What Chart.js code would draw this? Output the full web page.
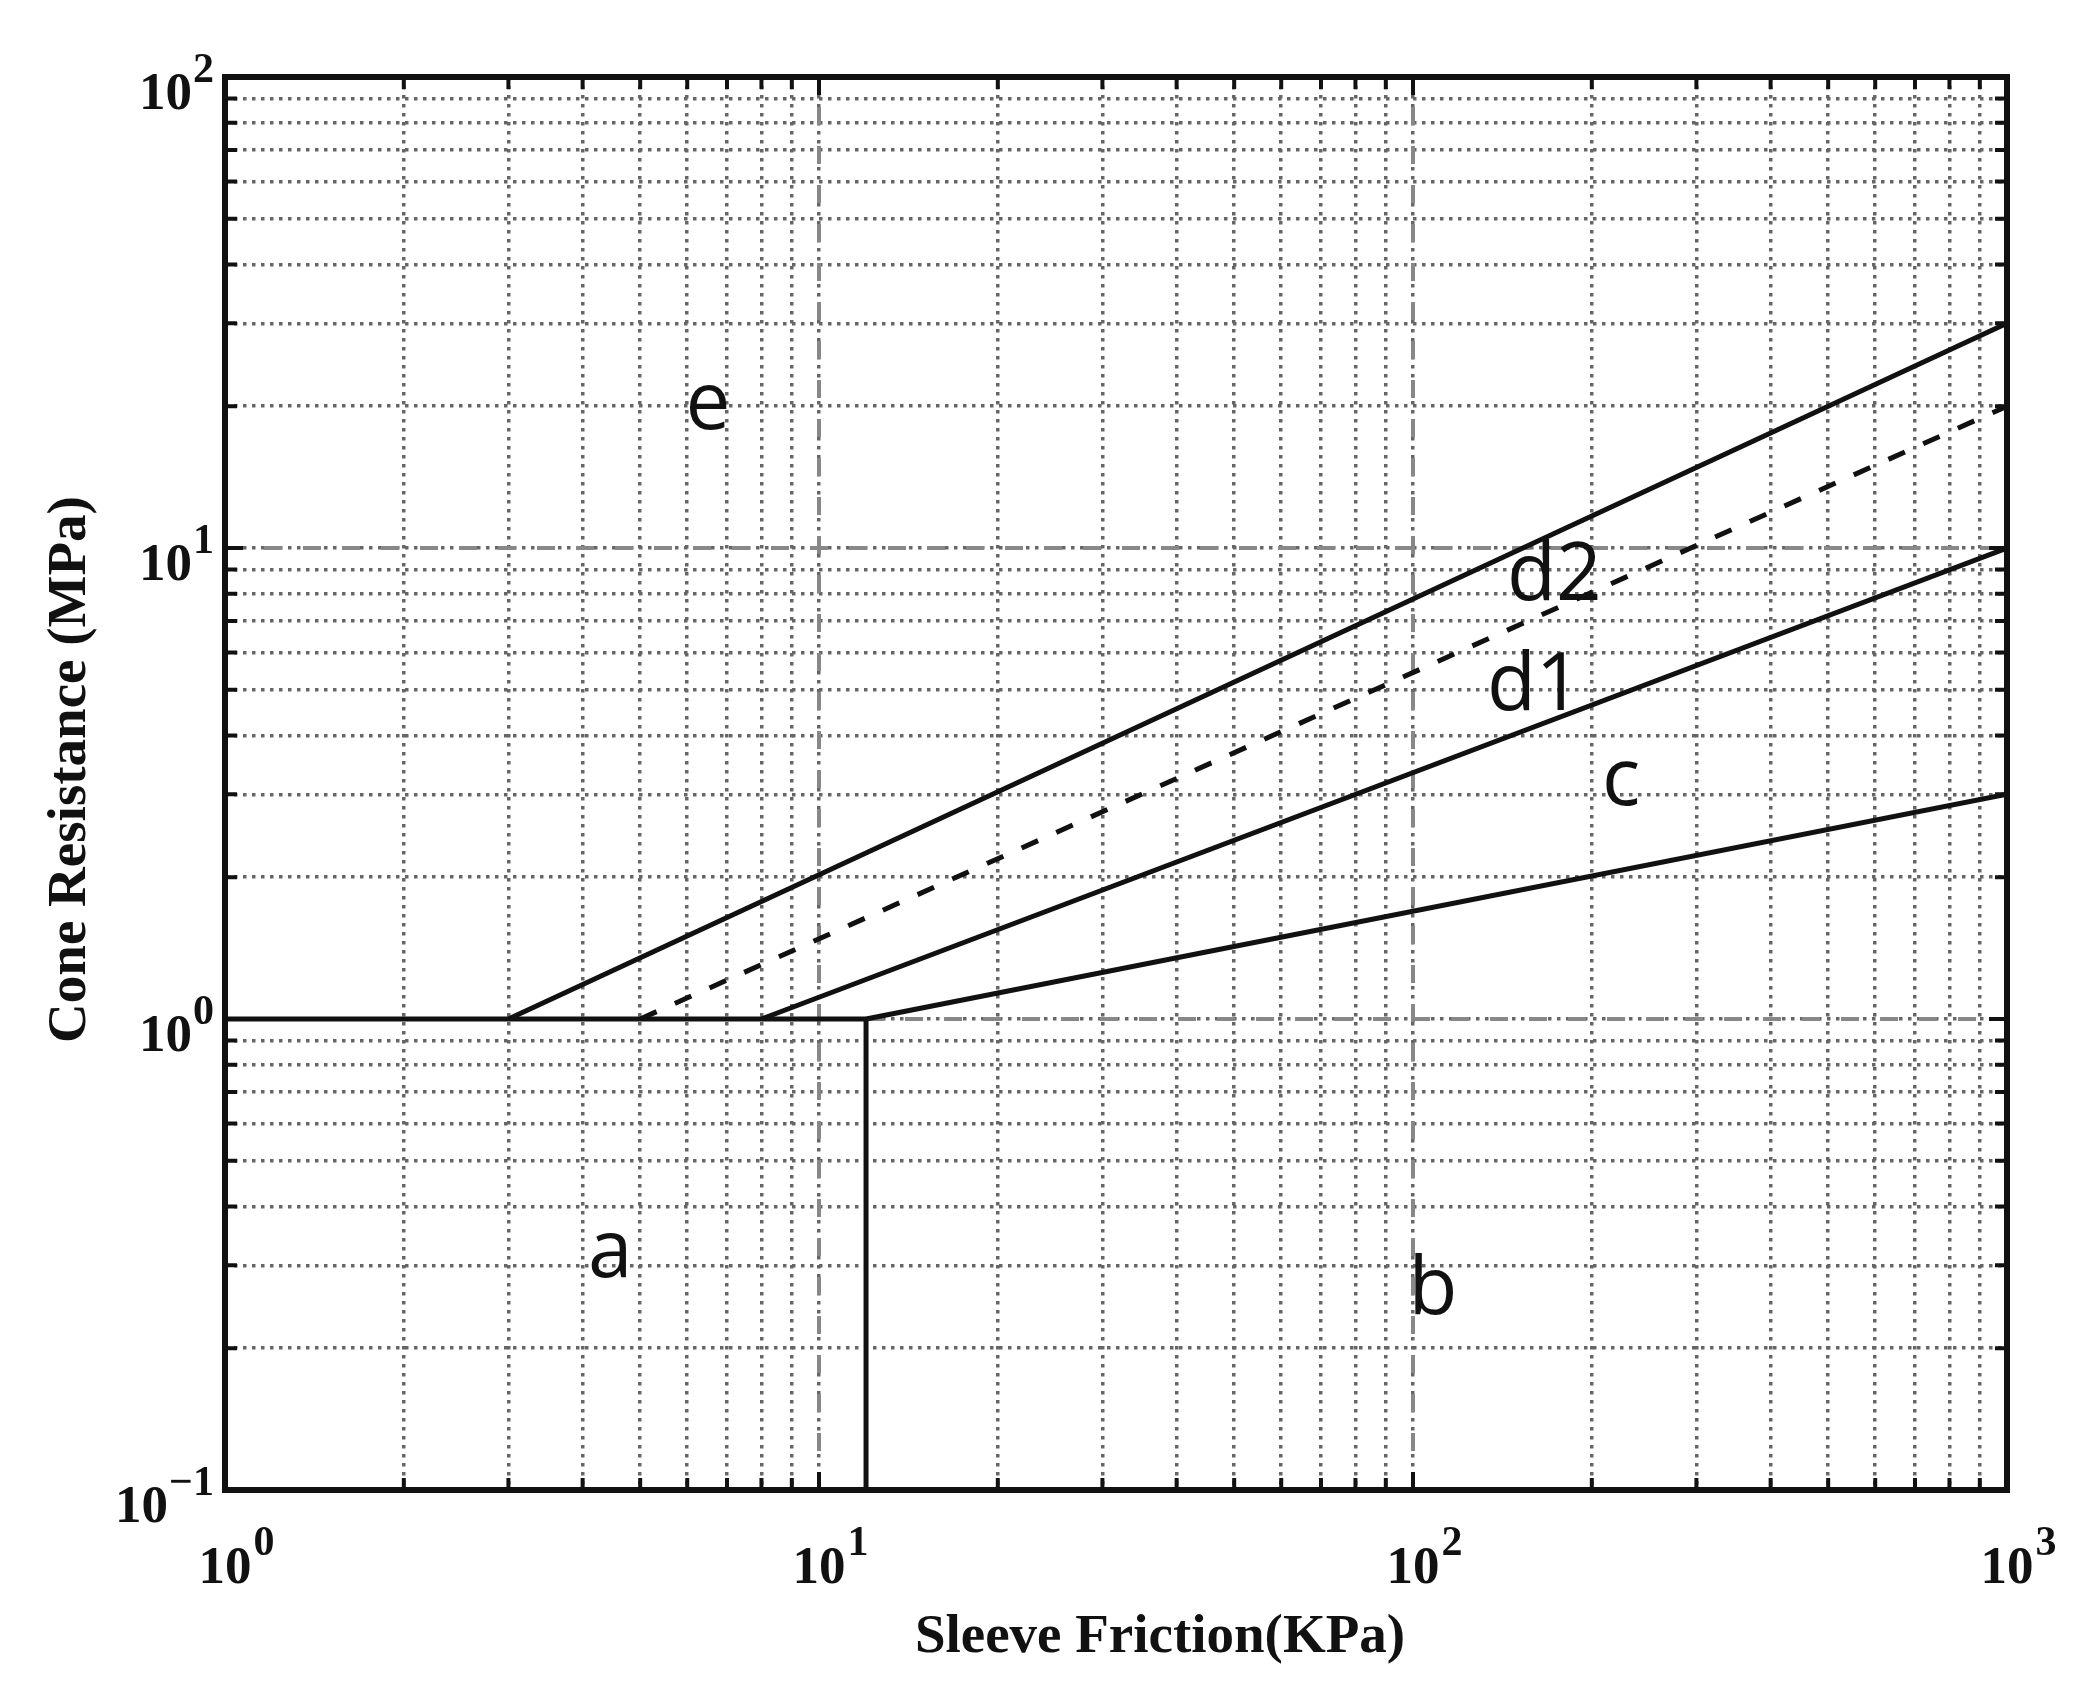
<!DOCTYPE html>
<html>
<head>
<meta charset="utf-8">
<title>Cone Resistance vs Sleeve Friction</title>
<script src="https://cdn.jsdelivr.net/npm/chart.js@4.4.1/dist/chart.umd.min.js"></script>
<style>
  html, body { margin: 0; padding: 0; background: #fff; }
  #wrap { position: relative; width: 2094px; height: 1688px; }
</style>
</head>
<body>
<div id="wrap"><canvas id="chart"></canvas></div>
<script>
// ---------- data ----------
// grid / tick positions (log decades with 2..9 minors)
const xTicks = [1, 2, 3, 4, 5, 6, 7, 8, 9, 10, 20, 30, 40, 50, 60, 70, 80, 90,
                100, 200, 300, 400, 500, 600, 700, 800, 900, 1000];
const yTicks = [0.1, 0.2, 0.3, 0.4, 0.5, 0.6, 0.7, 0.8, 0.9, 1, 2, 3, 4, 5, 6, 7, 8, 9,
                10, 20, 30, 40, 50, 60, 70, 80, 90, 100];
const xMajor = [1, 10, 100, 1000];
const yMajor = [0.1, 1, 10, 100];
const xExponents = ['0', '1', '2', '3'];
const yExponents = ['\u22121', '0', '1', '2'];

// zone boundaries: sleeve friction (kPa) -> cone resistance (MPa)
const edgeATop   = [{ x: 1, y: 1 }, { x: 12, y: 1 }];
const edgeABside = [{ x: 12, y: 0.1 }, { x: 12, y: 1 }];
const edgeD2E    = [{ x: 3, y: 1 }, { x: 1000, y: 30 }];
const edgeD1D2   = [{ x: 5, y: 1 }, { x: 1000, y: 20 }];
const edgeCD1    = [{ x: 8, y: 1 }, { x: 1000, y: 10 }];
const edgeBC     = [{ x: 12, y: 1 }, { x: 1000, y: 3 }];

// grey reference lines
const refY1   = [{ x: 12, y: 1 }, { x: 1000, y: 1 }];
const refY10  = [{ x: 1, y: 10 }, { x: 1000, y: 10 }];
const refX10  = [{ x: 10, y: 0.1 }, { x: 10, y: 100 }];
const refX100 = [{ x: 100, y: 0.1 }, { x: 100, y: 100 }];

// zone labels (anchored at text baseline centre)
const zoneNames = ['a', 'b', 'c', 'd1', 'd2', 'e'];
const zoneX = [4.45, 108, 224, 160, 173, 6.5];
const zoneY = [0.283, 0.236, 2.85, 4.53, 7.76, 17.9];

const xTitle = 'Sleeve Friction(KPa)';
const yTitle = 'Cone Resistance (MPa)';

// ---------- styles ----------
const INK = '#111';
const GREY = '#888';
const SERIF = '"Liberation Serif", "Times New Roman", serif';

function solid(data) {
  return { data, borderColor: INK, borderWidth: 5, showLine: true, pointRadius: 0, fill: false };
}
function dashedInk(data) {
  return { data, borderColor: INK, borderWidth: 5, borderDash: [18, 20], showLine: true, pointRadius: 0, fill: false };
}
function dashedGrey(data) {
  return { data, borderColor: GREY, borderWidth: 4, borderDash: [18, 21], showLine: true, pointRadius: 0, fill: false };
}

// first dataset is drawn on top, so black edges go first
const datasets = [
  solid(edgeATop), solid(edgeABside), solid(edgeD2E), dashedInk(edgeD1D2),
  solid(edgeCD1), solid(edgeBC),
  dashedGrey(refY1), dashedGrey(refY10), dashedGrey(refX10), dashedGrey(refX100),
];

function gridAxis(ticks, min, max) {
  return {
    type: 'logarithmic',
    min, max,
    afterBuildTicks: axis => { axis.ticks = ticks.map(v => ({ value: v })); },
    ticks: { display: false },
    grid: { color: '#666', lineWidth: 3.5, drawTicks: false },
    border: { display: false, dash: [3.5, 5.5] },
  };
}

// frame, inward ticks, power-of-ten labels, axis titles
const frameAndText = {
  id: 'frameAndText',
  afterDraw(chart) {
    const { ctx, chartArea: a, scales: { x, y } } = chart;
    ctx.save();
    ctx.strokeStyle = INK;
    ctx.lineWidth = 4;
    ctx.beginPath();
    xTicks.forEach(v => {
      const px = x.getPixelForValue(v);
      const len = xMajor.includes(v) ? 18 : 12;
      ctx.moveTo(px, a.bottom); ctx.lineTo(px, a.bottom - len);
      ctx.moveTo(px, a.top); ctx.lineTo(px, a.top + len);
    });
    yTicks.forEach(v => {
      const py = y.getPixelForValue(v);
      const len = yMajor.includes(v) ? 18 : 12;
      ctx.moveTo(a.left, py); ctx.lineTo(a.left + len, py);
      ctx.moveTo(a.right, py); ctx.lineTo(a.right - len, py);
    });
    ctx.stroke();
    ctx.lineWidth = 6;
    ctx.strokeRect(a.left, a.top, a.right - a.left, a.bottom - a.top);

    ctx.fillStyle = INK;
    ctx.textBaseline = 'alphabetic';
    const baseFont = 'bold 53px ' + SERIF;
    const supFont = 'bold 42px ' + SERIF;

    // x tick labels: "10" centred on tick, exponent to the right
    xMajor.forEach((v, i) => {
      const px = x.getPixelForValue(v);
      ctx.font = baseFont;
      const w = ctx.measureText('10').width;
      ctx.textAlign = 'center';
      ctx.fillText('10', px, a.bottom + 93);
      ctx.font = supFont;
      ctx.textAlign = 'left';
      ctx.fillText(xExponents[i], px + w / 2 + 2, a.bottom + 65);
    });

    // y tick labels: right aligned left of the frame
    yMajor.forEach((v, i) => {
      const py = y.getPixelForValue(v);
      ctx.font = supFont;
      const ws = ctx.measureText(yExponents[i]).width;
      const right = a.left - 11;
      ctx.textAlign = 'right';
      ctx.fillText(yExponents[i], right, py + 5);
      ctx.font = baseFont;
      ctx.fillText('10', right - ws - 1, py + 32);
    });

    // axis titles
    ctx.font = 'bold 55px ' + SERIF;
    ctx.textAlign = 'center';
    ctx.fillText(xTitle, (a.left + a.right) / 2 + 44, a.bottom + 162);
    ctx.save();
    ctx.translate(a.left - 140, (a.top + a.bottom) / 2 - 14);
    ctx.rotate(-Math.PI / 2);
    ctx.fillText(yTitle, 0, 0);
    ctx.restore();

    // zone labels
    ctx.font = '80px "Open Sans", "Noto Sans", sans-serif';
    ctx.textAlign = 'center';
    zoneNames.forEach((name, i) => {
      ctx.fillText(name, x.getPixelForValue(zoneX[i]), y.getPixelForValue(zoneY[i]));
    });
    ctx.restore();
  }
};

new Chart(document.getElementById('chart'), {
  type: 'scatter',
  data: { datasets },
  options: {
    responsive: true,
    maintainAspectRatio: false,
    animation: false,
    events: [],
    layout: { padding: { left: 225, right: 87, top: 77, bottom: 198 } },
    plugins: { legend: { display: false }, tooltip: { enabled: false } },
    scales: {
      x: gridAxis(xTicks, 1, 1000),
      y: gridAxis(yTicks, 0.1, 100),
    },
  },
  plugins: [frameAndText],
});
</script>
</body>
</html>
